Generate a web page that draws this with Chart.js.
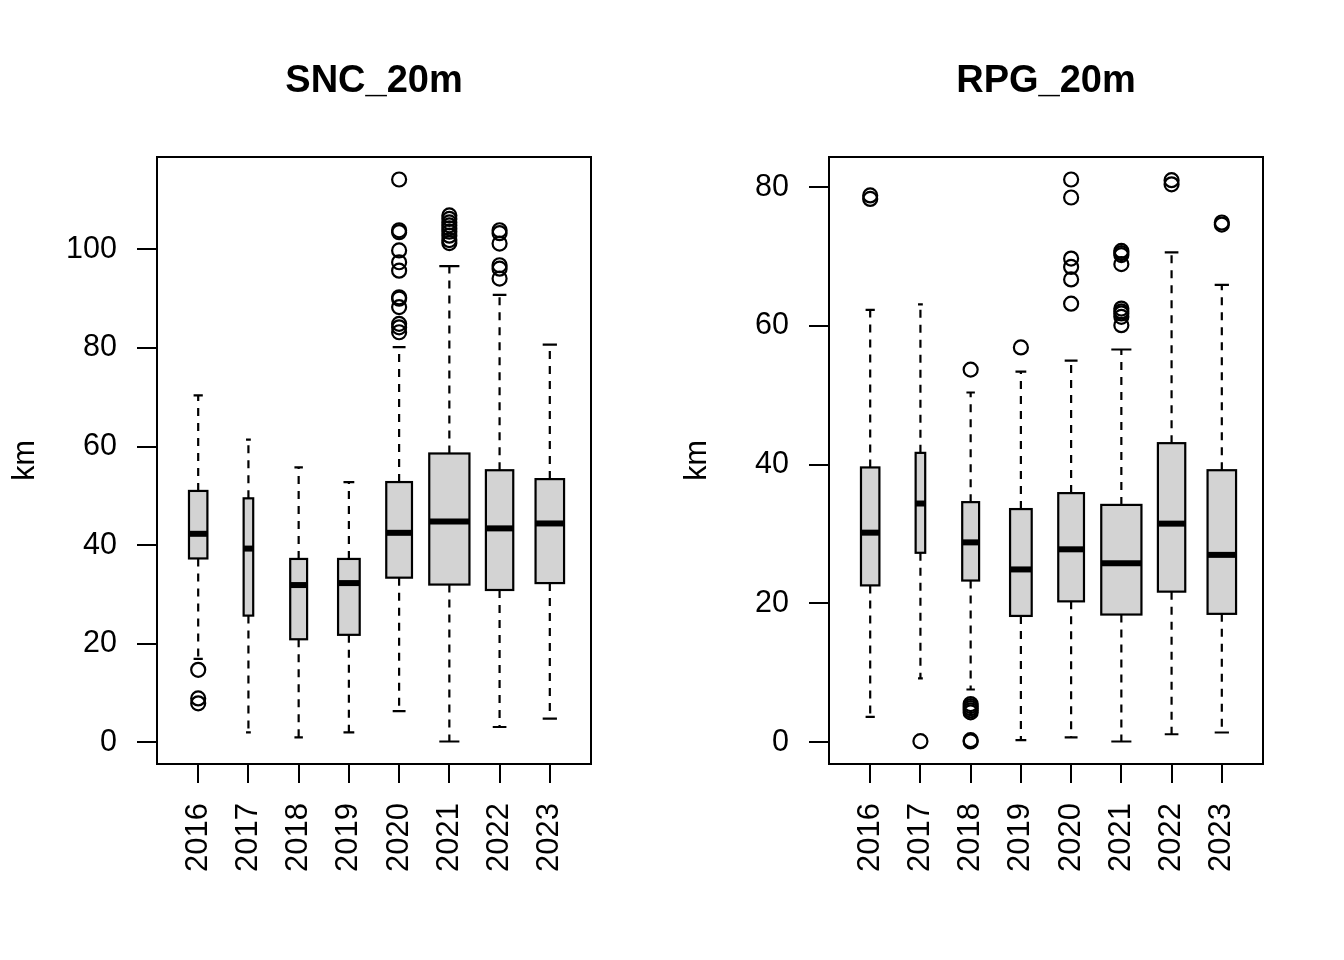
<!DOCTYPE html>
<html>
<head>
<meta charset="utf-8">
<script src="https://cdn.jsdelivr.net/npm/chart.js@4.4.1/dist/chart.umd.min.js"></script>
<style>
  body { margin: 0; background: #fff; }
  #wrap { position: relative; width: 1344px; height: 960px; }
  canvas { position: absolute; top: 0; }
</style>
</head>
<body>
<div id="wrap">
  <canvas id="chart1" width="672" height="960" style="left:0px"></canvas>
  <canvas id="chart2" width="672" height="960" style="left:672px"></canvas>
</div>
<script>
// categories
var years = ['2016', '2017', '2018', '2019', '2020', '2021', '2022', '2023']
// observations per year (box width ~ sqrt(n), like varwidth=TRUE)
var nObs = [63, 17, 53, 87, 123, 300, 139, 151]

// SNC_20m : whisker low, Q1, median, Q3, whisker high, outliers
var sncLo  = [16.9, 2.0, 1.0, 2.0, 6.3, 0.15, 3.1, 4.8]
var sncQ1  = [37.3, 25.7, 20.9, 21.8, 33.4, 32.0, 30.9, 32.3]
var sncMed = [42.3, 39.3, 31.9, 32.3, 42.5, 44.8, 43.4, 44.4]
var sncQ3  = [51.0, 49.5, 37.2, 37.2, 52.8, 58.6, 55.2, 53.4]
var sncHi  = [70.4, 61.4, 55.8, 52.8, 80.2, 96.6, 90.8, 80.7]
var sncOut = [
  [14.7, 8.9, 7.9],
  [],
  [],
  [],
  [114.2, 103.9, 103.5, 99.8, 97.4, 95.7, 90.3, 90.0, 88.3, 84.9, 84.2, 83.2],
  [106.9, 106.2, 105.5, 104.9, 104.3, 103.6, 102.8, 101.9, 101.3],
  [103.9, 103.3, 101.2, 96.8, 96.1, 94.1],
  []
]
var sncTicks = [0, 20, 40, 60, 80, 100]

// RPG_20m
var rpgLo  = [3.65, 9.2, 7.6, 0.3, 0.7, 0.1, 1.15, 1.4]
var rpgQ1  = [22.6, 27.3, 23.3, 18.2, 20.3, 18.4, 21.7, 18.5]
var rpgMed = [30.2, 34.4, 28.8, 24.9, 27.8, 25.8, 31.5, 27.0]
var rpgQ3  = [39.6, 41.7, 34.6, 33.6, 35.9, 34.2, 43.1, 39.2]
var rpgHi  = [62.3, 63.1, 50.4, 53.4, 55.0, 56.6, 70.6, 65.9]
var rpgOut = [
  [78.8, 78.3],
  [0.15],
  [53.7, 5.5, 5.2, 4.9, 4.6, 4.3, 0.3, 0.1],
  [56.9],
  [81.1, 78.5, 69.7, 68.5, 66.7, 63.2],
  [70.8, 70.5, 70.2, 68.9, 62.5, 62.1, 61.8, 61.3, 60.1],
  [81.0, 80.4],
  [74.9, 74.6]
]
var rpgTicks = [0, 20, 40, 60, 80]

var FONT = "'Liberation Sans', Arial, Helvetica, sans-serif"

function makeBoxChart(id, title, lo, q1, med, q3, hi, out, yTicks) {
  // R style range: data range extended by 4%
  var all = lo.concat(hi)
  out.forEach(function (o) { all = all.concat(o) })
  var dMin = Math.min.apply(null, all), dMax = Math.max.apply(null, all)
  var pad = (dMax - dMin) * 0.04
  var nMax = Math.max.apply(null, nObs)

  var points = []
  out.forEach(function (o, i) {
    o.forEach(function (v) { points.push({ x: i + 1, y: v }) })
  })

  var boxPlugin = {
    id: 'boxes',
    beforeDatasetsDraw: function (chart) {
      var ctx = chart.ctx, xs = chart.scales.x, ys = chart.scales.y
      ctx.save()
      ctx.strokeStyle = '#000'
      for (var i = 0; i < med.length; i++) {
        var half = 0.4 * Math.sqrt(nObs[i] / nMax)
        var xc = xs.getPixelForValue(i + 1)
        var xl = xs.getPixelForValue(i + 1 - half)
        var xr = xs.getPixelForValue(i + 1 + half)
        var sl = xs.getPixelForValue(i + 1 - half / 2)
        var sr = xs.getPixelForValue(i + 1 + half / 2)
        var yLo = ys.getPixelForValue(lo[i]), yQ1 = ys.getPixelForValue(q1[i])
        var yMed = ys.getPixelForValue(med[i]), yQ3 = ys.getPixelForValue(q3[i])
        var yHi = ys.getPixelForValue(hi[i])

        // whiskers
        ctx.lineWidth = 2.2
        ctx.setLineDash([8, 7])
        ctx.beginPath()
        ctx.moveTo(xc, yQ3); ctx.lineTo(xc, yHi)
        ctx.moveTo(xc, yQ1); ctx.lineTo(xc, yLo)
        ctx.stroke()
        ctx.setLineDash([])
        // staples
        ctx.beginPath()
        ctx.moveTo(sl, yHi); ctx.lineTo(sr, yHi)
        ctx.moveTo(sl, yLo); ctx.lineTo(sr, yLo)
        ctx.stroke()
        // box
        ctx.fillStyle = '#d3d3d3'
        ctx.fillRect(xl, yQ3, xr - xl, yQ1 - yQ3)
        ctx.strokeRect(xl, yQ3, xr - xl, yQ1 - yQ3)
        // median
        ctx.lineWidth = 6
        ctx.beginPath()
        ctx.moveTo(xl, yMed); ctx.lineTo(xr, yMed)
        ctx.stroke()
      }
      ctx.restore()
    },
    afterDraw: function (chart) {
      var ctx = chart.ctx, ca = chart.chartArea
      ctx.save()
      ctx.strokeStyle = '#000'
      ctx.lineWidth = 2
      ctx.strokeRect(ca.left, ca.top, ca.right - ca.left, ca.bottom - ca.top)
      ctx.restore()
    }
  }

  return new Chart(document.getElementById(id), {
    type: 'scatter',
    data: {
      datasets: [{
        data: points,
        pointStyle: 'circle',
        pointRadius: 7,
        pointBorderWidth: 2.2,
        borderColor: '#000',
        backgroundColor: 'rgba(0,0,0,0)',
        clip: false
      }]
    },
    options: {
      responsive: false,
      animation: false,
      events: [],
      layout: { padding: { left: 0, right: 81, top: 0, bottom: 0 } },
      plugins: {
        legend: { display: false },
        tooltip: { enabled: false },
        title: {
          display: true,
          text: title,
          fullSize: false,
          color: '#000',
          font: { family: FONT, size: 38, weight: 'bold', lineHeight: 1.2 },
          padding: { top: 59, bottom: 52.4 }
        }
      },
      scales: {
        x: {
          type: 'linear',
          min: 0.18,
          max: years.length + 0.82,
          afterBuildTicks: function (s) {
            s.ticks = years.map(function (y, i) { return { value: i + 1 } })
          },
          afterFit: function (s) { s.height = 196 },
          border: { display: false },
          grid: { drawOnChartArea: false, tickLength: 19, color: '#000', lineWidth: 2 },
          ticks: {
            autoSkip: false,
            minRotation: 90,
            maxRotation: 90,
            padding: 20,
            color: '#000',
            font: { family: FONT, size: 31 },
            callback: function (v) { return years[v - 1] }
          }
        },
        y: {
          min: dMin - pad,
          max: dMax + pad,
          afterBuildTicks: function (s) {
            s.ticks = yTicks.map(function (v) { return { value: v } })
          },
          afterFit: function (s) { s.width = 157 },
          border: { display: false },
          grid: { drawOnChartArea: false, tickLength: 20, color: '#000', lineWidth: 2 },
          ticks: {
            padding: 20,
            color: '#000',
            font: { family: FONT, size: 30.5 }
          },
          title: {
            display: true,
            text: 'km',
            color: '#000',
            font: { family: FONT, size: 30.5, lineHeight: 1.2 },
            padding: { top: 7, bottom: 0 }
          }
        }
      }
    },
    plugins: [boxPlugin]
  })
}

makeBoxChart('chart1', 'SNC_20m', sncLo, sncQ1, sncMed, sncQ3, sncHi, sncOut, sncTicks)
makeBoxChart('chart2', 'RPG_20m', rpgLo, rpgQ1, rpgMed, rpgQ3, rpgHi, rpgOut, rpgTicks)
</script>
</body>
</html>
